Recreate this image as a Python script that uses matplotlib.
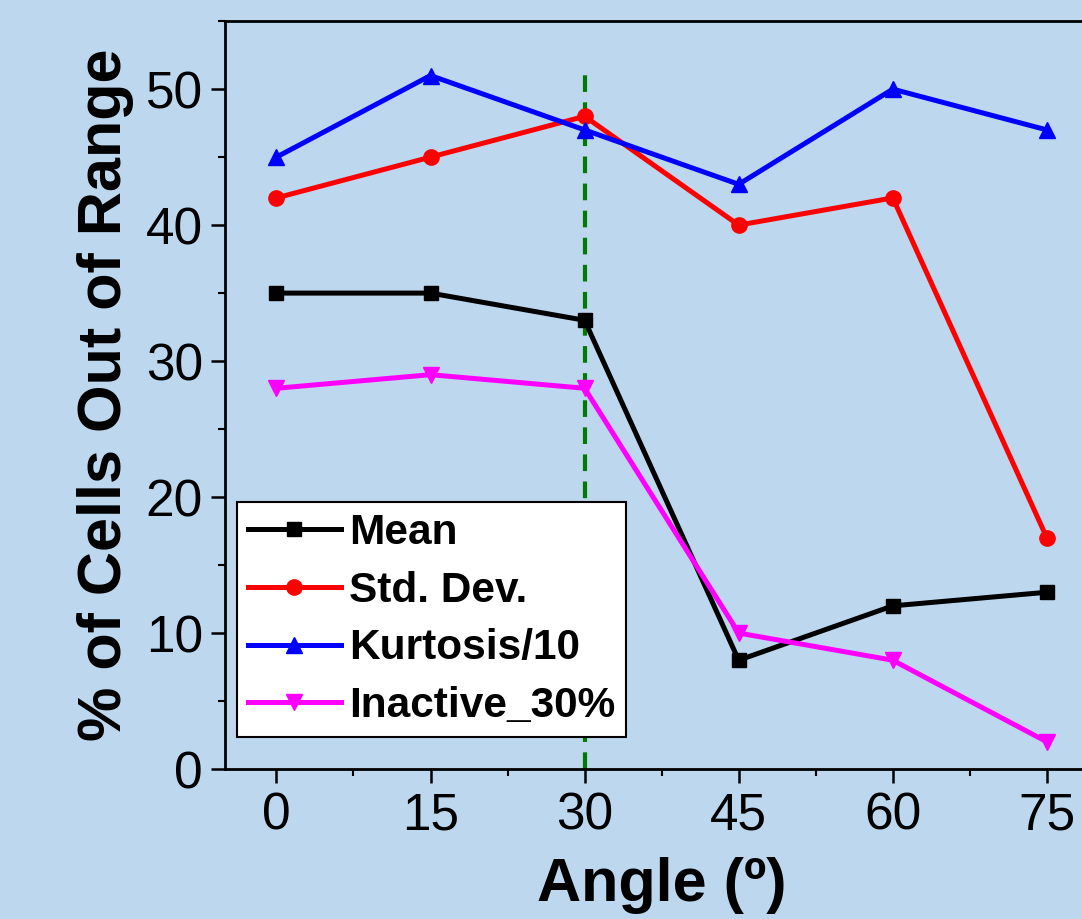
import matplotlib
matplotlib.use("Agg")
import matplotlib.pyplot as plt
from matplotlib.ticker import MultipleLocator

angles = [0, 15, 30, 45, 60, 75]
mean_vals = [35, 35, 33, 8, 12, 13]
std_vals = [42, 45, 48, 40, 42, 17]
kurt_vals = [45, 51, 47, 43, 50, 47]
inactive_vals = [28, 29, 28, 10, 8, 2]

series_labels = ["Mean", "Std. Dev.", "Kurtosis/10", "Inactive_30%"]
series_colors = ["black", "#ff0000", "#0000ff", "#ff00ff"]
series_markers = ["s", "o", "^", "v"]

threshold_angle = 30

bg = "#bdd7ee"
plt.rcParams["font.family"] = ["Liberation Sans", "DejaVu Sans"]

fig = plt.figure(figsize=(10.82, 9.19), dpi=100, facecolor=bg)
ax = fig.add_axes([0.208, 0.1632, 0.807, 0.8138], facecolor=bg)

ax.vlines(threshold_angle, 0, 51.5, colors="#007a00", linestyles=(0, (4, 2.5)), linewidth=3)

for vals, lab, col, mk in zip(
    [mean_vals, std_vals, kurt_vals, inactive_vals], series_labels, series_colors, series_markers
):
    ms = 10 if mk == "s" else 11
    ax.plot(angles, vals, color=col, marker=mk, markersize=ms, linewidth=3.6, label=lab)

ax.set_xlim(-5, 80)
ax.set_ylim(0, 55)
ax.xaxis.set_major_locator(MultipleLocator(15))
ax.xaxis.set_minor_locator(MultipleLocator(7.5))
ax.yaxis.set_major_locator(MultipleLocator(10))
ax.yaxis.set_minor_locator(MultipleLocator(5))
ax.tick_params(which="major", direction="out", length=10, width=1.8, labelsize=37, pad=6)
ax.tick_params(which="minor", direction="out", length=5, width=1.5)
ax.spines["right"].set_visible(False)
for s in ["left", "bottom", "top"]:
    ax.spines[s].set_linewidth(2)

ax.set_xlabel("Angle (º)", fontsize=44, fontweight="bold", labelpad=12)
ax.set_ylabel("% of Cells Out of Range", fontsize=44, fontweight="bold", labelpad=8)

leg = ax.legend(
    loc="lower left",
    bbox_to_anchor=(0.0137, 0.043),
    borderaxespad=0,
    prop={"size": 30.5, "weight": "bold"},
    handlelength=2.2,
    handletextpad=0.2,
    labelspacing=0.42,
    borderpad=0.25,
    fancybox=False,
    framealpha=1,
    edgecolor="black",
)
leg.get_frame().set_linewidth(1.5)

fig.savefig("out.png", dpi=100, facecolor=bg)
